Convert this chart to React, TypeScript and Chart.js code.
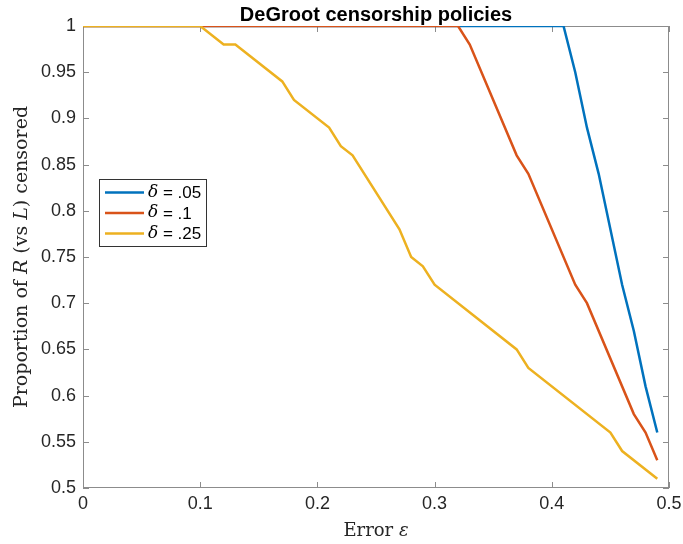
import React, { useEffect, useRef } from "react";
import { Chart, registerables } from "chart.js";

Chart.register(...registerables);

const titleText = "DeGroot censorship policies";
const xTicks = [0, 0.1, 0.2, 0.3, 0.4, 0.5];
const yTicks = [0.5, 0.55, 0.6, 0.65, 0.7, 0.75, 0.8, 0.85, 0.9, 0.95, 1];

const blueX = [0, 0.41, 0.42, 0.43, 0.44, 0.46, 0.47, 0.48, 0.49];
const blueY = [1, 1, 0.95, 0.89, 0.84, 0.72, 0.67, 0.61, 0.56];
const redX = [0, 0.32, 0.33, 0.37, 0.38, 0.42, 0.43, 0.47, 0.48, 0.49];
const redY = [1, 1, 0.98, 0.86, 0.84, 0.72, 0.7, 0.58, 0.56, 0.53];
const yellowX = [0, 0.1, 0.12, 0.13, 0.17, 0.18, 0.21, 0.22, 0.23, 0.27, 0.28, 0.29, 0.3, 0.37, 0.38, 0.45, 0.46, 0.49];
const yellowY = [1, 1, 0.98, 0.98, 0.94, 0.92, 0.89, 0.87, 0.86, 0.78, 0.75, 0.74, 0.72, 0.65, 0.63, 0.56, 0.54, 0.51];

const legendValues = [".05", ".1", ".25"];
const colors = ["#0072BD", "#D95319", "#EDB120"];

const SANS = '"Liberation Sans", Arial, Helvetica, sans-serif';
const SERIF = '"DejaVu Serif", serif';
const TEXT = "#262626";
const AXIS = "#8c8c8c";

const toPts = (xs: number[], ys: number[]) => xs.map((x, i) => ({ x, y: ys[i] }));

const decorPlugin = {
  id: "decor",
  beforeDatasetsDraw(chart: any) {
    const { ctx, chartArea: a, scales } = chart;
    ctx.save();
    ctx.strokeStyle = AXIS;
    ctx.lineWidth = 1;
    ctx.strokeRect(Math.round(a.left) + 0.5, Math.round(a.top) + 0.5, Math.round(a.right - a.left) - 1, Math.round(a.bottom - a.top) - 1);
    const tl = 6;
    ctx.beginPath();
    xTicks.forEach((v) => {
      const px = Math.round(scales.x.getPixelForValue(v)) + 0.5;
      ctx.moveTo(px, a.bottom);
      ctx.lineTo(px, a.bottom - tl);
      ctx.moveTo(px, a.top);
      ctx.lineTo(px, a.top + tl);
    });
    yTicks.forEach((v) => {
      const py = Math.round(scales.y.getPixelForValue(v)) + 0.5;
      ctx.moveTo(a.left, py);
      ctx.lineTo(a.left + tl, py);
      ctx.moveTo(a.right, py);
      ctx.lineTo(a.right - tl, py);
    });
    ctx.stroke();
    ctx.restore();
  },
  afterDraw(chart: any) {
    const { ctx, chartArea: a } = chart;
    ctx.save();
    // title
    ctx.fillStyle = "#000";
    ctx.font = `bold 20px ${SANS}`;
    ctx.textAlign = "center";
    ctx.textBaseline = "alphabetic";
    ctx.fillText(titleText, (a.left + a.right) / 2, 21);

    // x label
    ctx.fillStyle = TEXT;
    const xParts = [
      { t: "Error ", f: `18px ${SERIF}` },
      { t: "ε", f: `italic 18px ${SERIF}` },
    ];
    let w = 0;
    xParts.forEach((p) => { ctx.font = p.f; w += ctx.measureText(p.t).width; });
    let x0 = (a.left + a.right) / 2 - w / 2;
    ctx.textAlign = "left";
    xParts.forEach((p) => { ctx.font = p.f; ctx.fillText(p.t, x0, 536); x0 += ctx.measureText(p.t).width; });

    // y label
    const yParts = [
      { t: "Proportion of ", f: `19px ${SERIF}` },
      { t: "R", f: `italic 19px ${SERIF}` },
      { t: " (vs ", f: `19px ${SERIF}` },
      { t: "L", f: `italic 19px ${SERIF}` },
      { t: ") censored", f: `19px ${SERIF}` },
    ];
    w = 0;
    yParts.forEach((p) => { ctx.font = p.f; w += ctx.measureText(p.t).width; });
    ctx.translate(27, (a.top + a.bottom) / 2);
    ctx.rotate(-Math.PI / 2);
    let y0 = -w / 2;
    yParts.forEach((p) => { ctx.font = p.f; ctx.fillText(p.t, y0, 0); y0 += ctx.measureText(p.t).width; });
    ctx.restore();

    // legend
    ctx.save();
    const lx = 99.5, ly = 179.5, lw = 107, lh = 67;
    ctx.fillStyle = "#fff";
    ctx.fillRect(lx, ly, lw, lh);
    ctx.strokeStyle = "#333";
    ctx.lineWidth = 1;
    ctx.strokeRect(lx, ly, lw, lh);
    legendValues.forEach((v, i) => {
      const cy = 192.5 + i * 20.5;
      ctx.strokeStyle = colors[i];
      ctx.lineWidth = 2.5;
      ctx.beginPath();
      ctx.moveTo(105, cy);
      ctx.lineTo(144, cy);
      ctx.stroke();
      ctx.fillStyle = "#000";
      ctx.textBaseline = "middle";
      ctx.textAlign = "left";
      ctx.font = `italic 17px ${SERIF}`;
      ctx.fillText("δ", 148, cy);
      const dw = ctx.measureText("δ").width;
      ctx.font = `17px ${SANS}`;
      ctx.fillText(" = " + v, 148 + dw, cy + 1);
    });
    ctx.restore();
  },
};

export default function App() {
  const ref = useRef<HTMLCanvasElement>(null);
  useEffect(() => {
    if (!ref.current) return;
    const chart = new Chart(ref.current, {
      type: "scatter",
      data: {
        datasets: [
          { label: "δ = .05", data: toPts(blueX, blueY), borderColor: colors[0], order: 2 },
          { label: "δ = .1", data: toPts(redX, redY), borderColor: colors[1], order: 1 },
          { label: "δ = .25", data: toPts(yellowX, yellowY), borderColor: colors[2], order: 0 },
        ].map((d) => ({
          ...d,
          showLine: true,
          borderWidth: 2.5,
          pointRadius: 0,
          backgroundColor: d.borderColor,
          tension: 0,
        })),
      },
      options: {
        animation: false,
        responsive: true,
        maintainAspectRatio: false,
        layout: { padding: { left: 0, top: 26, right: 14, bottom: 0 } },
        plugins: { legend: { display: false }, tooltip: { enabled: false }, title: { display: false } },
        scales: {
          x: {
            type: "linear",
            min: 0,
            max: 0.5,
            afterBuildTicks: (s: any) => { s.ticks = xTicks.map((v) => ({ value: v })); },
            afterFit: (s: any) => { s.height = 56; s.paddingLeft = 0; s.paddingRight = 0; },
            ticks: {
              autoSkip: false,
              maxRotation: 0,
              padding: 5,
              color: TEXT,
              font: { family: SANS, size: 18 },
              callback: (v: any) => String(parseFloat(Number(v).toFixed(2))),
            },
            grid: { display: false, drawTicks: false },
            border: { display: false },
          },
          y: {
            type: "linear",
            min: 0.5,
            max: 1,
            afterBuildTicks: (s: any) => { s.ticks = yTicks.map((v) => ({ value: v })); },
            afterFit: (s: any) => { s.width = 83; s.paddingTop = 0; s.paddingBottom = 0; },
            ticks: {
              autoSkip: false,
              padding: 7,
              color: TEXT,
              font: { family: SANS, size: 18 },
              callback: (v: any) => String(parseFloat(Number(v).toFixed(2))),
            },
            grid: { display: false, drawTicks: false },
            border: { display: false },
          },
        },
      },
      plugins: [decorPlugin],
    } as any);
    return () => chart.destroy();
  }, []);
  return (
    <div style={{ position: "fixed", left: 0, top: 0, width: 683, height: 544, background: "#fff" }}>
      <canvas ref={ref} />
    </div>
  );
}
